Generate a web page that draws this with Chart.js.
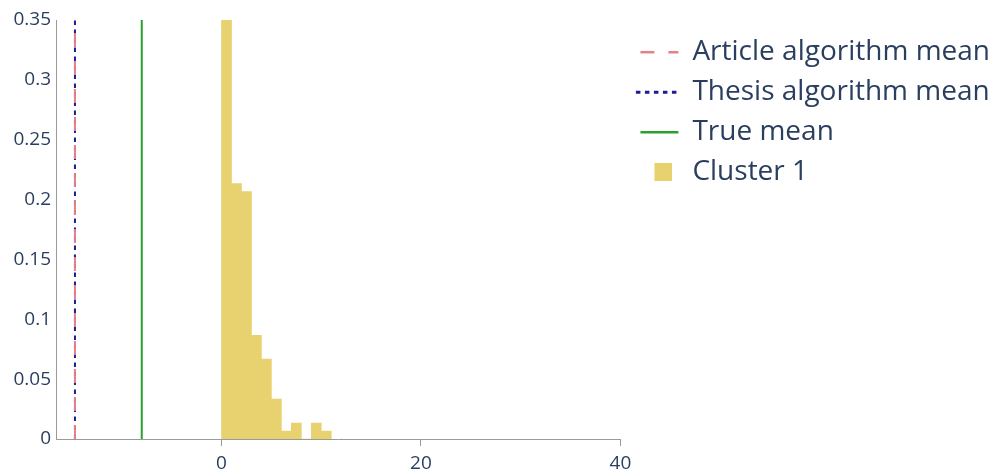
<!DOCTYPE html>
<html>
<head>
<meta charset="utf-8">
<script src="https://cdn.jsdelivr.net/npm/chart.js@4/dist/chart.umd.min.js"></script>
<style>
  html, body { margin: 0; padding: 0; background: #fff; }
  #wrap { width: 1000px; height: 475px; position: relative; }
</style>
</head>
<body>
<div id="wrap"><canvas id="c"></canvas></div>
<script>
// ---- data ----
const binCenters = [0.5, 1.5, 2.5, 3.5, 4.5, 5.5, 6.5, 7.5, 8.5, 9.5, 10.5];
const clusterDensity = [0.3533, 0.2133, 0.2067, 0.0867, 0.0667, 0.0333, 0.0067, 0.0133, 0, 0.0133, 0.0067];
const articleMean = -14.7;
const thesisMean = -14.7;
const trueMean = -8.0;
const lineTop = 0.35;
const xTickValues = [0, 20, 40];
const yTickValues = [0, 0.05, 0.1, 0.15, 0.2, 0.25, 0.3, 0.35];
const seriesNames = ['Article algorithm mean', 'Thesis algorithm mean', 'True mean', 'Cluster 1'];

// ---- styles ----
const textColor = '#2a3f5f';
const axisColor = '#9a9a9a';
const barColor = '#e8d16f';
const articleColor = '#e3818a';
const thesisColor = '#1c1c8f';
const trueColor = '#2ca02c';

Chart.defaults.font.family = "'Open Sans', sans-serif";
Chart.defaults.color = textColor;

// legend marker for the histogram: an 18px square sitting on the right part of a wider transparent image
const square = document.createElement('canvas');
square.width = 34; square.height = 18;
const sctx = square.getContext('2d');
sctx.fillStyle = barColor;
sctx.fillRect(16, 0, 18, 18);

function vline(v) { return [{x: v, y: 0}, {x: v, y: lineTop}]; }

const datasets = [
  { type: 'line', label: seriesNames[0], data: vline(articleMean), borderColor: articleColor,
    borderWidth: 2, borderDash: [14, 14], pointRadius: 0, fill: false,
    legendDash: [14, 14], legendDashOffset: 20, legendWidth: 2.5 },
  { type: 'line', label: seriesNames[1], data: vline(thesisMean), borderColor: thesisColor,
    borderWidth: 2, borderDash: [4.5, 4.5], pointRadius: 0, fill: false,
    legendDash: [4.5, 4.5], legendDashOffset: 5.5, legendWidth: 3 },
  { type: 'line', label: seriesNames[2], data: vline(trueMean), borderColor: trueColor,
    borderWidth: 2, pointRadius: 0, fill: false,
    legendDash: [0, 8, 200, 0], legendDashOffset: 0, legendWidth: 2.5 },
  { type: 'bar', label: seriesNames[3],
    data: binCenters.map((c, i) => ({x: c, y: clusterDensity[i]})),
    backgroundColor: barColor, borderWidth: 0, barPercentage: 1, categoryPercentage: 1 }
];

new Chart(document.getElementById('c'), {
  type: 'bar',
  data: { datasets },
  options: {
    responsive: true,
    maintainAspectRatio: false,
    animation: false,
    layout: { padding: { top: 20, right: 0, bottom: 0, left: 0 } },
    plugins: {
      tooltip: { enabled: false },
      legend: {
        position: 'right',
        align: 'start',
        maxWidth: 450,
        title: { display: true, text: ' ', font: { size: 1 }, padding: { top: 0, bottom: 5 } },
        labels: {
          usePointStyle: true,
          pointStyleWidth: 46,
          padding: 12,
          color: textColor,
          font: { size: 28 },
          generateLabels: (chart) => chart.data.datasets.map((ds, i) => ({
            text: ds.label,
            datasetIndex: i,
            hidden: false,
            fontColor: textColor,
            fillStyle: ds.type === 'bar' ? barColor : 'transparent',
            strokeStyle: ds.type === 'bar' ? barColor : ds.borderColor,
            lineWidth: ds.type === 'bar' ? 0 : ds.legendWidth,
            lineDash: ds.type === 'bar' ? [] : ds.legendDash,
            lineDashOffset: ds.type === 'bar' ? 0 : ds.legendDashOffset,
            pointStyle: ds.type === 'bar' ? square : 'line'
          }))
        }
      }
    },
    scales: {
      x: {
        type: 'linear',
        min: -16.6,
        max: 40,
        offset: false,
        grid: { display: true, offset: false, drawOnChartArea: false, drawTicks: true, tickLength: 7, color: axisColor },
        border: { display: true, color: axisColor, width: 1 },
        ticks: { font: { size: 19 }, color: textColor, padding: 6, maxRotation: 0, autoSkip: false },
        afterBuildTicks: (scale) => { scale.ticks = xTickValues.map(v => ({value: v})); },
        afterFit: (scale) => { scale.height = 36; }
      },
      y: {
        type: 'linear',
        min: 0,
        max: 0.35,
        grid: { display: false, drawTicks: false },
        border: { display: true, color: axisColor, width: 1 },
        ticks: { font: { size: 19 }, color: textColor, padding: 5, callback: (v) => String(v) },
        afterBuildTicks: (scale) => { scale.ticks = yTickValues.map(v => ({value: v})); },
        afterFit: (scale) => { scale.width = 56; }
      }
    }
  }
});
</script>
</body>
</html>
